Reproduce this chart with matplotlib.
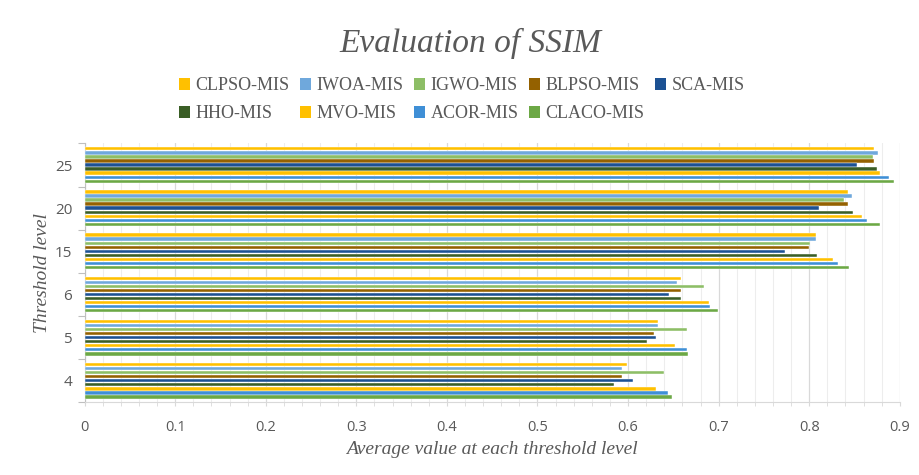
import matplotlib
matplotlib.use("Agg")
import matplotlib.pyplot as plt
import numpy as np
from matplotlib.patches import Patch
from matplotlib.ticker import MultipleLocator

levels = ["4", "5", "6", "15", "20", "25"]
series = ["CLPSO-MIS", "IWOA-MIS", "IGWO-MIS", "BLPSO-MIS", "SCA-MIS",
          "HHO-MIS", "MVO-MIS", "ACOR-MIS", "CLACO-MIS"]

clpso = [0.599, 0.633, 0.659, 0.807, 0.843, 0.872]
iwoa  = [0.593, 0.633, 0.654, 0.807, 0.847, 0.876]
igwo  = [0.640, 0.665, 0.684, 0.801, 0.838, 0.871]
blpso = [0.593, 0.629, 0.659, 0.800, 0.843, 0.872]
sca   = [0.605, 0.631, 0.645, 0.773, 0.811, 0.853]
hho   = [0.584, 0.621, 0.659, 0.809, 0.848, 0.875]
mvo   = [0.631, 0.652, 0.689, 0.826, 0.858, 0.878]
acor  = [0.644, 0.665, 0.691, 0.832, 0.864, 0.888]
claco = [0.648, 0.666, 0.699, 0.844, 0.878, 0.894]
values = [clpso, iwoa, igwo, blpso, sca, hho, mvo, acor, claco]

colors = ["#FFC000", "#6FA8DC", "#8DBE66", "#946100", "#1C5193",
          "#3A5E26", "#FFC000", "#3F8FD6", "#6CA845"]

fig = plt.figure(figsize=(9.2, 4.75), dpi=100)
ax = fig.add_axes([0.092, 0.153, 0.886, 0.545])

slot = 0.094
bh = 0.078
yc = np.arange(len(levels))
for i, (vals, c) in enumerate(zip(values, colors)):
    ax.barh(yc + (4 - i) * slot, vals, height=bh, color=c,
            edgecolor="white", linewidth=0.3, zorder=3, label=series[i])

ax.set_xlim(0, 0.9)
ax.set_ylim(-0.5, len(levels) - 0.5)
ax.xaxis.set_major_locator(MultipleLocator(0.1))
ax.xaxis.set_minor_locator(MultipleLocator(0.02))
ax.grid(axis="x", which="major", color="#D9D9D9", linewidth=0.9, zorder=0)
ax.grid(axis="x", which="minor", color="#EDEDED", linewidth=0.8, zorder=0)
ax.set_xticks(np.arange(0, 0.91, 0.1))
ax.set_xticklabels(["0", "0.1", "0.2", "0.3", "0.4", "0.5", "0.6", "0.7", "0.8", "0.9"])
ax.tick_params(axis="x", which="both", length=3, color="#D9D9D9",
               labelsize=10.5, labelcolor="#595959", pad=10)

ax.set_yticks(np.arange(-0.5, len(levels), 1.0))
ax.set_yticklabels([])
ax.set_yticks(yc, minor=True)
ax.set_yticklabels(levels, minor=True)
ax.tick_params(axis="y", which="major", length=5, color="#BFBFBF")
ax.tick_params(axis="y", which="minor", length=0, labelsize=11,
               labelcolor="#595959", pad=9)
for lab in ax.get_xticklabels() + ax.get_yticklabels(minor=True):
    lab.set_family(["Open Sans", "DejaVu Sans"])

for s in ["top", "right"]:
    ax.spines[s].set_visible(False)
ax.spines["left"].set_color("#BFBFBF")
ax.spines["bottom"].set_color("#D9D9D9")

ax.set_xlabel("Average value at each threshold level", family="Liberation Serif",
              style="italic", fontsize=14, color="#595959", labelpad=4)
ax.set_ylabel("Threshold level", family="Liberation Serif",
              style="italic", fontsize=14, color="#595959", labelpad=3)

fig.text(0.511, 0.908, "Evaluation of SSIM", family="Liberation Serif",
         style="italic", fontsize=24, color="#595959", ha="center", va="center")

handles = [Patch(facecolor=c, label=s) for c, s in zip(colors, series)]
order = [0, 5, 1, 6, 2, 7, 3, 8, 4]
leg = fig.legend([handles[k] for k in order], [series[k] for k in order],
                 loc="center", bbox_to_anchor=(0.502, 0.79), ncol=5,
                 frameon=False, prop={"family": "Liberation Serif", "size": 13},
                 handlelength=0.6, handleheight=0.6, handletextpad=0.3,
                 columnspacing=0.6, labelspacing=0.6, borderaxespad=0)
for t in leg.get_texts():
    t.set_color("#595959")

fig.savefig("out.png", dpi=100)
